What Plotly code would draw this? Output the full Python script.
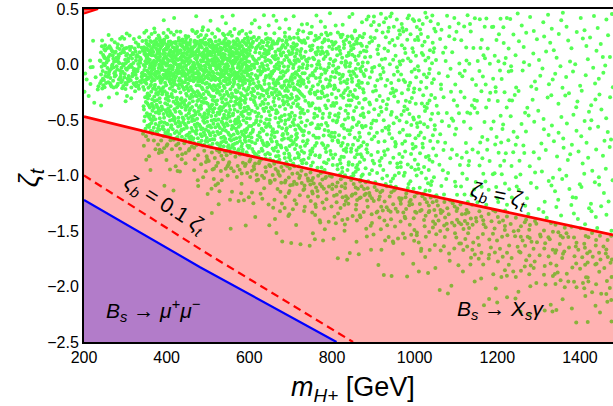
import math
import plotly.graph_objects as go
import numpy as np

# ---------------- data ----------------
# constraint curves (x in GeV, y = zeta_t)
redline_x = [200, 481, 1086, 1480]
redline_y = [-0.47, -0.725, -1.22, -1.535]          # zeta_b = zeta_t  (B_s -> X_s gamma bound)
blueline_x = [200, 481, 811]
blueline_y = [-1.22, -1.826, -2.5]                  # B_s -> mu+ mu- bound
dashed_x = [200, 488, 851]
dashed_y = [-1.0, -1.68, -2.5]                      # zeta_b = 0.1 zeta_t
corner_x = [200, 234, 200]
corner_y = [0.46, 0.5, 0.5]                         # small excluded corner, top left

# scan points: density (points per 100 GeV x 0.1 cell) read region by region
# upper cloud (absolute zeta_t ranges, only the part above the red line is drawn)
up_x0 = [200, 200, 240, 240, 240, 345, 345, 345, 345, 600, 600, 600, 730, 730, 730, 880, 1050, 1250]
up_x1 = [240, 240, 345, 345, 345, 600, 600, 600, 600, 730, 730, 730, 880, 880, 880, 1050, 1250, 1480]
up_y0 = [-0.35, 0.05, -0.22, 0.17, -0.38, -0.15, 0.22, 0.32, -0.85, -0.3, 0.25, -1.0, -0.3, -1.1, 0.3, -1.25, -1.4, -1.6]
up_y1 = [0.05, 0.22, 0.17, 0.28, -0.22, 0.22, 0.32, 0.45, -0.15, 0.25, 0.45, -0.3, 0.3, -0.3, 0.47, 0.47, 0.47, 0.47]
up_dens = [9, 1.5, 40, 14, 5, 62, 20, 3, 36, 34, 7, 24, 22, 17, 5, 11, 5.5, 4]
# lower cloud (depth below the red line)
lo_x0 = [340, 340, 340, 480, 480, 480, 650, 650, 650, 900, 900, 900, 1150, 1150, 1150]
lo_x1 = [480, 480, 480, 650, 650, 650, 900, 900, 900, 1150, 1150, 1150, 1480, 1480, 1480]
lo_d0 = [0, 0.15, 0.35, 0, 0.2, 0.45, 0, 0.2, 0.45, 0, 0.25, 0.5, 0, 0.3, 0.6]
lo_d1 = [0.15, 0.35, 0.5, 0.2, 0.45, 0.7, 0.2, 0.45, 0.75, 0.25, 0.5, 0.85, 0.3, 0.6, 0.9]
lo_dens = [15, 5, 1.5, 16, 6, 1.5, 18, 9, 3, 15, 8, 2.5, 10, 7, 2.5]

x_ticks = [200, 400, 600, 800, 1000, 1200, 1400]
y_ticks = [0.5, 0.0, -0.5, -1.0, -1.5, -2.0, -2.5]


# ---------------- placing the points (deterministic leaped Halton sequence, small tiles) ----------------
def halton(i, b):
    f, r = 1.0, 0.0
    while i > 0:
        f /= b
        r += f * (i % b)
        i //= b
    return r


LEAP = 409


def redline(x):
    return np.interp(x, redline_x, redline_y)


tile_counter = [0]


def fill_region(x0, x1, v0, v1, dens):
    """positions covering a region at the given density, tile by tile"""
    total = dens * (x1 - x0) / 100 * (v1 - v0) / 0.1
    nx = max(1, math.ceil((x1 - x0) / 45))
    ny = max(1, math.ceil((v1 - v0) / 0.18))
    per = total / (nx * ny)
    acc = 0.0
    out = []
    for ix in range(nx):
        for iy in range(ny):
            acc += per
            n = int(acc)
            acc -= n
            tile_counter[0] += 1
            s = 13 + tile_counter[0] * 211
            tx0 = x0 + (x1 - x0) * ix / nx
            tv0 = v0 + (v1 - v0) * iy / ny
            for i in range(s, s + n):
                k = i * LEAP
                out.append((tx0 + (x1 - x0) / nx * halton(k, 2),
                            tv0 + (v1 - v0) / ny * halton(k, 3)))
    return out


px, py = [], []
for x0, x1, y0, y1, d in zip(up_x0, up_x1, up_y0, up_y1, up_dens):
    for xx, yy in fill_region(x0, x1, y0, y1, d):
        if yy > redline(xx):
            px.append(xx)
            py.append(yy)
for x0, x1, d0, d1, d in zip(lo_x0, lo_x1, lo_d0, lo_d1, lo_dens):
    for xx, dd in fill_region(x0, x1, d0, d1, d):
        yy = redline(xx) - dd
        if yy > -2.5:
            px.append(xx)
            py.append(yy)

fig = go.Figure()
fig.add_trace(go.Scatter(x=px, y=py, mode="markers",
                         marker=dict(size=4, color="rgb(85,255,85)", line=dict(width=0)),
                         hoverinfo="skip", showlegend=False))
# excluded region below red line
fig.add_trace(go.Scatter(x=redline_x + [redline_x[-1], redline_x[0]],
                         y=redline_y + [-2.5, -2.5], mode="none", fill="toself",
                         fillcolor="rgba(255,0,0,0.3)", showlegend=False))
# excluded region below blue line
fig.add_trace(go.Scatter(x=blueline_x + [blueline_x[0]],
                         y=blueline_y + [-2.5], mode="none", fill="toself",
                         fillcolor="rgba(0,0,255,0.3)", showlegend=False))
fig.add_trace(go.Scatter(x=dashed_x, y=dashed_y, mode="lines",
                         line=dict(color="red", width=2.2, dash="8px,5px"), showlegend=False))
fig.add_trace(go.Scatter(x=redline_x, y=redline_y, mode="lines",
                         line=dict(color="red", width=2.8), showlegend=False))
fig.add_trace(go.Scatter(x=blueline_x, y=blueline_y, mode="lines",
                         line=dict(color="blue", width=2.2), showlegend=False))
fig.add_trace(go.Scatter(x=corner_x, y=corner_y, mode="lines", fill="toself",
                         fillcolor="rgba(255,0,0,0.6)",
                         line=dict(color="red", width=2), showlegend=False))

FONT = "Liberation Sans, Arial, sans-serif"
ann = [
    dict(x=1204, y=-1.185, text="<i>ζ<sub>b</sub></i> = <i>ζ<sub>t</sub></i>", textangle=12, font_size=21),
    dict(x=396, y=-1.266, text="<i>ζ<sub>b</sub></i> = 0.1 <i>ζ<sub>t</sub></i>", textangle=32, font_size=21),
    dict(x=368, y=-2.215, text="<i>B<sub>s</sub></i> → <i>μ<sup>+</sup>μ<sup>−</sup></i>", font_size=21),
    dict(x=1207, y=-2.215, text="<i>B<sub>s</sub></i> → <i>X<sub>s</sub>γ</i>", font_size=21),
]
annotations = []
for a in ann:
    annotations.append(dict(xref="x", yref="y", showarrow=False,
                            font=dict(family=FONT, size=a.pop("font_size"), color="black"), **a))
annotations.append(dict(xref="paper", yref="paper", x=0.5085, y=-0.14, showarrow=False,
                        text="<i>m</i><sub><i>H+</i></sub> [GeV]",
                        font=dict(family=FONT, size=27, color="black"), yanchor="middle"))
annotations.append(dict(xref="paper", yref="paper", x=-0.102, y=0.495, showarrow=False,
                        text="<i>ζ<sub>t</sub></i>", textangle=-90,
                        font=dict(family=FONT, size=28, color="black"), xanchor="center", yanchor="middle"))

fig.update_layout(
    width=613, height=406,
    margin=dict(l=84, r=0, t=9, b=64),
    paper_bgcolor="white", plot_bgcolor="white",
    font=dict(family=FONT, size=16, color="black"),
    annotations=annotations,
    xaxis=dict(range=[200, 1480], tickvals=x_ticks, showgrid=False, zeroline=False,
               showline=True, linecolor="black", linewidth=2, mirror=True, ticks=""),
    yaxis=dict(range=[-2.5, 0.5], tickvals=y_ticks, tickformat=".1f", showgrid=False, zeroline=False,
               showline=True, linecolor="black", linewidth=2, ticks=""),
)
# remove the browser's default 8px page margin so the figure sits at the window's corner
fig.write_html("out.html", config={"displayModeBar": False},
               post_script="document.body.style.margin='0px';document.body.style.overflow='hidden';")
